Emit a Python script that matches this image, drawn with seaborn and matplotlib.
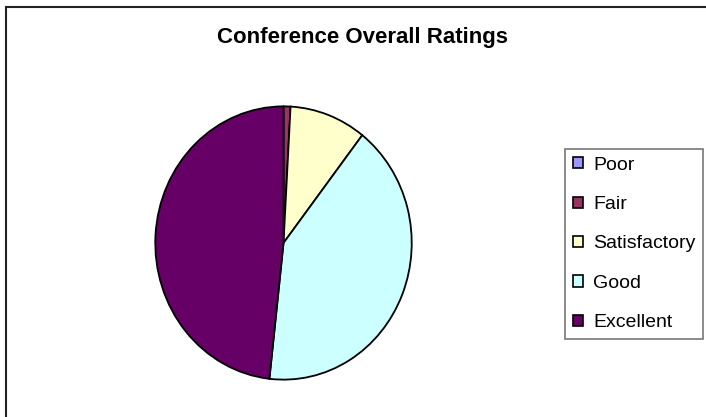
"""
Conference overall ratings pie chart
"""

import matplotlib
matplotlib.use("Agg")
import matplotlib.pyplot as plt
from matplotlib.patches import Rectangle
import seaborn as sns

# data (counts, clockwise from 12 o'clock)
categories = ["Poor", "Fair", "Satisfactory", "Good", "Excellent"]
counts = [0, 1, 11, 47, 55]
colors = ["#9999FF", "#993366", "#FFFFCC", "#CCFFFF", "#660066"]
title = "Conference Overall Ratings"

sns.set_theme(style="white")
plt.rcParams["font.family"] = ["Liberation Sans", "DejaVu Sans"]
plt.rcParams["text.color"] = "black"

W, H = 706, 417
fig = plt.figure(figsize=(W / 100, H / 100), dpi=100)

# chart area border (cut off at right and bottom like the reference)
fig.patches.append(Rectangle((6 / W, -0.05), 1.1, 1 - 7 / H + 0.05,
                             transform=fig.transFigure, fill=False,
                             edgecolor="#222222", linewidth=1.5))

# pie axes placed so the (slightly oval) pie sits where it does in the reference
cx, cy, rx, ry = 283.5, 243, 129.5, 138
ax = fig.add_axes([(cx - rx) / W, 1 - (cy + ry) / H, 2 * rx / W, 2 * ry / H])
palette = sns.color_palette(colors)
wedges, _ = ax.pie(counts, colors=palette, startangle=90, counterclock=False,
                   wedgeprops=dict(edgecolor="black", linewidth=1.3))
ax.set_aspect("auto")
ax.set_xlim(-1.01, 1.01)
ax.set_ylim(-1.01, 1.01)
ax.axis("off")

fig.text(362.5 / W, 1 - 37 / H, title, ha="center", va="center",
         fontsize=16, fontweight="bold", color="black")

leg = fig.legend(wedges, categories, loc="upper left",
                 bbox_to_anchor=(565 / W, 1 - 149 / H), borderaxespad=0,
                 fontsize=14, frameon=True, fancybox=False,
                 handlelength=0.5, handleheight=0.5, handletextpad=0.55,
                 labelspacing=1.15, borderpad=0.4)
leg.get_frame().set_edgecolor("#555555")
leg.get_frame().set_linewidth(1.2)
for h in leg.legend_handles:
    h.set_edgecolor("black")
    h.set_linewidth(1.2)
for t in leg.get_texts():
    t.set_color("black")

fig.savefig("out.png", dpi=100)
